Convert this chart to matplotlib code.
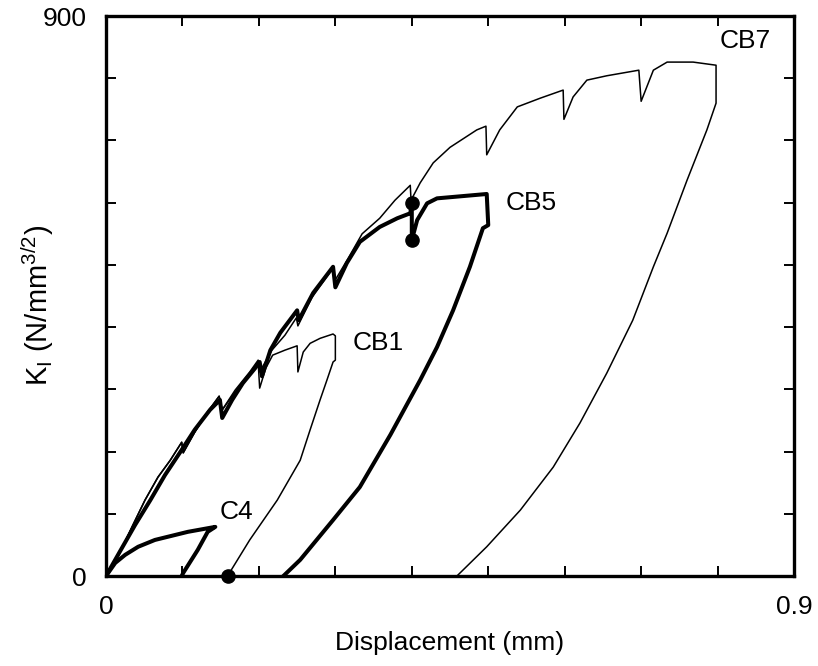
import matplotlib
matplotlib.use("Agg")
import matplotlib.pyplot as plt
import numpy as np

plt.rcParams['font.family'] = ['Liberation Sans', 'DejaVu Sans']
plt.rcParams['mathtext.fontset'] = 'custom'
plt.rcParams['mathtext.rm'] = 'Liberation Sans'
plt.rcParams['mathtext.it'] = 'Liberation Sans:italic'

# ---- data (displacement mm, K_I N/mm^3/2) ----
cb7_x = [0, 0.016, 0.034, 0.051, 0.068, 0.084, 0.099, 0.101, 0.116, 0.133, 0.148, 0.152,
         0.169, 0.188, 0.199, 0.201, 0.217, 0.234, 0.249, 0.251, 0.269, 0.286, 0.297, 0.300,
         0.317, 0.335, 0.358, 0.378, 0.398, 0.399, 0.411, 0.428, 0.450, 0.485, 0.497, 0.498,
         0.515, 0.538, 0.568, 0.598, 0.599, 0.611, 0.629, 0.655, 0.697, 0.700, 0.716, 0.734,
         0.768, 0.798, 0.798, 0.786, 0.760, 0.734, 0.716, 0.689, 0.655, 0.620, 0.585, 0.542,
         0.498, 0.459]
cb7_k = [0, 32, 79, 122, 159, 186, 215, 198, 231, 264, 289, 267,
         299, 328, 347, 328, 363, 387, 415, 402, 447, 476, 495, 476,
         511, 550, 575, 604, 628, 604, 632, 664, 689, 717, 723, 677,
         717, 754, 768, 781, 734, 770, 797, 804, 813, 763, 813, 826,
         826, 821, 760, 717, 636, 551, 497, 411, 326, 246, 175, 106,
         47, 0]

cb5_x = [0, 0.018, 0.038, 0.058, 0.077, 0.097, 0.116, 0.136, 0.149, 0.152, 0.165, 0.179,
         0.195, 0.201, 0.204, 0.215, 0.228, 0.250, 0.252, 0.271, 0.297, 0.300, 0.315, 0.332,
         0.358, 0.381, 0.398, 0.400, 0.400, 0.407, 0.420, 0.433, 0.498, 0.500, 0.493, 0.476,
         0.454, 0.433, 0.411, 0.372, 0.332, 0.297, 0.254, 0.232]
cb5_k = [0, 39, 82, 122, 162, 199, 235, 267, 283, 254, 283, 310,
         334, 344, 321, 363, 391, 427, 411, 455, 497, 464, 503, 537,
         561, 575, 583, 599, 540, 572, 599, 607, 614, 564, 559, 497,
         427, 368, 315, 227, 143, 90, 26, 0]

cb1_x = [0, 0.016, 0.034, 0.051, 0.068, 0.084, 0.099, 0.101, 0.116, 0.133, 0.148, 0.152,
         0.169, 0.186, 0.199, 0.201, 0.209, 0.218, 0.234, 0.250, 0.251, 0.258, 0.267, 0.280,
         0.297, 0.300, 0.300, 0.297, 0.289, 0.280, 0.267, 0.254, 0.224, 0.188, 0.162, 0.160]
cb1_k = [0, 32, 79, 122, 159, 186, 215, 198, 231, 264, 289, 267,
         296, 323, 344, 302, 334, 355, 363, 370, 328, 360, 374, 382,
         389, 386, 347, 344, 315, 283, 235, 186, 122, 58, 6, 0]

c4_x = [0, 0.012, 0.025, 0.042, 0.064, 0.107, 0.143, 0.133, 0.120, 0.101, 0.099]
c4_k = [0, 21, 34, 47, 58, 71, 79, 71, 42, 5, 0]

dot_x = [0.400, 0.400, 0.160]
dot_k = [599, 540, 0]

labels = ['CB7', 'CB5', 'CB1', 'C4']
label_x = [0.803, 0.523, 0.322, 0.149]
label_k = [860, 600, 374, 103]

# ---- figure ----
fig = plt.figure(figsize=(8.18, 6.66), dpi=100)
ax = fig.add_axes([0.1296, 0.1351, 0.8411, 0.8408])

thin = 1.1
thick = 2.9
ax.plot(cb7_x, cb7_k, color='black', lw=thin, solid_joinstyle='round')
ax.plot(cb1_x, cb1_k, color='black', lw=thin, solid_joinstyle='round')
ax.plot(cb5_x, cb5_k, color='black', lw=thick, solid_joinstyle='round')
ax.plot(c4_x, c4_k, color='black', lw=thick, solid_joinstyle='round')
ax.plot(dot_x, dot_k, 'o', color='black', ms=9.5, ls='none', clip_on=False, zorder=5)

for t, x, y in zip(labels, label_x, label_k):
    ax.text(x, y, t, fontsize=19, ha='left', va='center')

ax.set_xlim(0, 0.9)
ax.set_ylim(0, 900)
xt = np.round(np.arange(0, 0.91, 0.1), 1)
ax.set_xticks(xt)
ax.set_xticklabels(['0'] + [''] * 8 + ['0.9'])
yt = np.arange(0, 901, 100)
ax.set_yticks(yt)
ax.set_yticklabels(['0'] + [''] * 8 + ['900'])

ax.tick_params(direction='in', length=7, width=1.4, top=True, right=True,
               labelsize=19)
ax.tick_params(axis='x', pad=14)
ax.tick_params(axis='y', pad=14)
for s in ax.spines.values():
    s.set_linewidth(2.4)

ax.set_xlabel('Displacement (mm)', fontsize=19, labelpad=8)
ax.set_ylabel(r'K$_\mathrm{I}$ (N/mm$^{3/2}$)', fontsize=21)
ax.yaxis.set_label_coords(-0.072, 0.484)

fig.savefig('out.png', dpi=100)
